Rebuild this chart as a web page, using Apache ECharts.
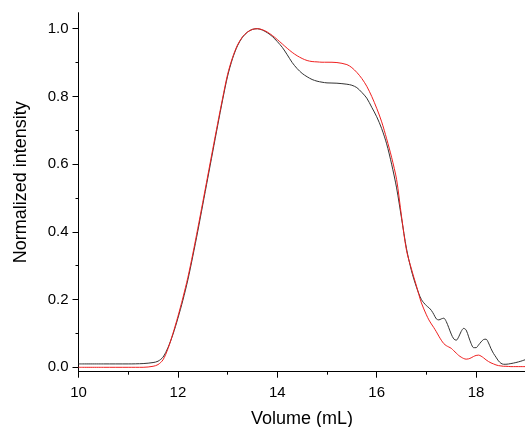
<!DOCTYPE html>
<html>
<head>
<meta charset="utf-8">
<script src="https://cdn.jsdelivr.net/npm/echarts@6/dist/echarts.min.js"></script>
<style>
html,body{margin:0;padding:0;background:#fff;}
#chart{width:525px;height:427px;}
</style>
</head>
<body>
<div id="chart"></div>
<script>
// Elution volume (mL)
const volumes = [
  10.0, 10.5, 11.0, 11.3, 11.5, 11.6, 11.7, 11.8, 11.9,
  12.0, 12.1, 12.2, 12.3, 12.4, 12.5, 12.6, 12.7, 12.8, 12.9,
  13.0, 13.1, 13.2, 13.3, 13.4, 13.5, 13.6, 13.7, 13.8, 13.9,
  14.0, 14.1, 14.2, 14.3, 14.4, 14.5, 14.6, 14.7, 14.8, 14.9,
  15.0, 15.2, 15.4, 15.5, 15.6, 15.7, 15.8, 15.9,
  16.0, 16.1, 16.2, 16.3, 16.4, 16.5, 16.6, 16.7, 16.8, 16.9,
  17.0, 17.05, 17.1, 17.15, 17.2, 17.25, 17.3, 17.35, 17.4, 17.45,
  17.5, 17.55, 17.6, 17.65, 17.7, 17.75, 17.8, 17.85, 17.9, 17.95,
  18.0, 18.05, 18.1, 18.15, 18.2, 18.25, 18.3, 18.35, 18.4, 18.45,
  18.5, 18.55, 18.6, 18.7, 18.8, 18.9, 19.0
];
// Normalized intensity, black trace
const blackIntensity = [
  0.010, 0.010, 0.010, 0.011, 0.014, 0.018, 0.030, 0.058, 0.097,
  0.145, 0.198, 0.258, 0.328, 0.402, 0.480, 0.558, 0.636, 0.714, 0.790,
  0.860, 0.912, 0.950, 0.975, 0.990, 0.998, 1.000, 0.996, 0.988, 0.977,
  0.962, 0.945, 0.923, 0.900, 0.882, 0.868, 0.858, 0.850, 0.845, 0.842,
  0.840, 0.839, 0.836, 0.833, 0.826, 0.812, 0.795, 0.768,
  0.740, 0.705, 0.660, 0.600, 0.530, 0.440, 0.350, 0.285, 0.237, 0.200,
  0.182, 0.176, 0.168, 0.156, 0.143, 0.140, 0.143, 0.145, 0.135, 0.117,
  0.098, 0.084, 0.080, 0.090, 0.106, 0.115, 0.110, 0.090, 0.070, 0.058,
  0.058, 0.066, 0.075, 0.082, 0.083, 0.072, 0.055, 0.041, 0.030, 0.019,
  0.012, 0.009, 0.009, 0.011, 0.014, 0.018, 0.023
];
// Normalized intensity, red trace
const redIntensity = [
  0.000, 0.000, 0.000, 0.000, 0.003, 0.008, 0.022, 0.055, 0.100,
  0.150, 0.205, 0.265, 0.335, 0.410, 0.487, 0.565, 0.643, 0.720, 0.795,
  0.865, 0.915, 0.952, 0.976, 0.990, 0.998, 1.000, 0.997, 0.990, 0.980,
  0.968, 0.955, 0.942, 0.930, 0.920, 0.912, 0.906, 0.903, 0.902, 0.901,
  0.901, 0.900, 0.894, 0.885, 0.871, 0.853, 0.830, 0.800,
  0.765, 0.725, 0.675, 0.620, 0.555, 0.445, 0.345, 0.290, 0.240, 0.190,
  0.155, 0.140, 0.128, 0.117, 0.105, 0.092, 0.080, 0.070, 0.064, 0.060,
  0.056, 0.049, 0.042, 0.035, 0.030, 0.026, 0.024, 0.025, 0.028, 0.032,
  0.035, 0.036, 0.033, 0.028, 0.022, 0.017, 0.013, 0.010, 0.007, 0.005,
  0.004, 0.003, 0.003, 0.002, 0.002, 0.002, 0.002
];
const xTitle = 'Volume (mL)';
const yTitle = 'Normalized intensity';

const zip = (xs, ys) => xs.map((x, i) => [x, ys[i]]);
const FONT = 'Liberation Sans, Arial, sans-serif';

const chart = echarts.init(document.getElementById('chart'), null, {renderer: 'canvas'});
chart.setOption({
  animation: false,
  backgroundColor: '#fff',
  grid: [
    // data / y-tick grid: y=0 -> 367.3px, y=1 -> 28.7px
    {left: 78.5, top: 28.7, width: 497, height: 338.6, outerBoundsMode: 'none', containLabel: false},
    // axis-line frame grid
    {left: 78.5, top: 12.7, width: 497, height: 359, outerBoundsMode: 'none', containLabel: false}
  ],
  xAxis: [
    {gridIndex: 0, type: 'value', min: 10, max: 20, show: false},
    {
      gridIndex: 1, type: 'value', min: 10, max: 20, interval: 2,
      name: xTitle, nameLocation: 'middle', nameGap: 38,
      nameTextStyle: {fontFamily: FONT, fontSize: 18, color: '#000', padding: [0, 50, 0, 0]},
      axisLine: {show: true, lineStyle: {color: '#000', width: 1}},
      axisTick: {show: true, inside: false, length: 6, lineStyle: {color: '#000', width: 1}},
      minorTick: {show: true, splitNumber: 2, length: 3, lineStyle: {color: '#000', width: 1}},
      axisLabel: {fontFamily: FONT, fontSize: 15, color: '#000', margin: 14},
      splitLine: {show: false}, minorSplitLine: {show: false}
    }
  ],
  yAxis: [
    {
      gridIndex: 0, type: 'value', min: 0, max: 1, interval: 0.2,
      axisLine: {show: false},
      axisTick: {show: true, inside: false, length: 6, lineStyle: {color: '#000', width: 1}},
      minorTick: {show: true, splitNumber: 2, length: 3, lineStyle: {color: '#000', width: 1}},
      axisLabel: {fontFamily: FONT, fontSize: 15, color: '#000', margin: 10,
        formatter: v => v.toFixed(1)},
      splitLine: {show: false}, minorSplitLine: {show: false}
    },
    {
      gridIndex: 1, type: 'value', min: 0, max: 1,
      name: yTitle, nameLocation: 'middle', nameGap: 48, nameRotate: 90,
      nameTextStyle: {fontFamily: FONT, fontSize: 18, color: '#000', padding: [0, 0, 0, 20]},
      axisLine: {show: true, lineStyle: {color: '#000', width: 1}},
      axisTick: {show: false}, axisLabel: {show: false},
      splitLine: {show: false}
    }
  ],
  series: [
    {
      type: 'line', xAxisIndex: 0, yAxisIndex: 0,
      data: zip(volumes, blackIntensity),
      showSymbol: false, smooth: 0.3, clip: false,
      lineStyle: {color: '#333333', width: 1}
    },
    {
      type: 'line', xAxisIndex: 0, yAxisIndex: 0,
      data: zip(volumes, redIntensity),
      showSymbol: false, smooth: 0.3, clip: false,
      lineStyle: {color: '#f02020', width: 1}
    }
  ]
});
</script>
</body>
</html>
